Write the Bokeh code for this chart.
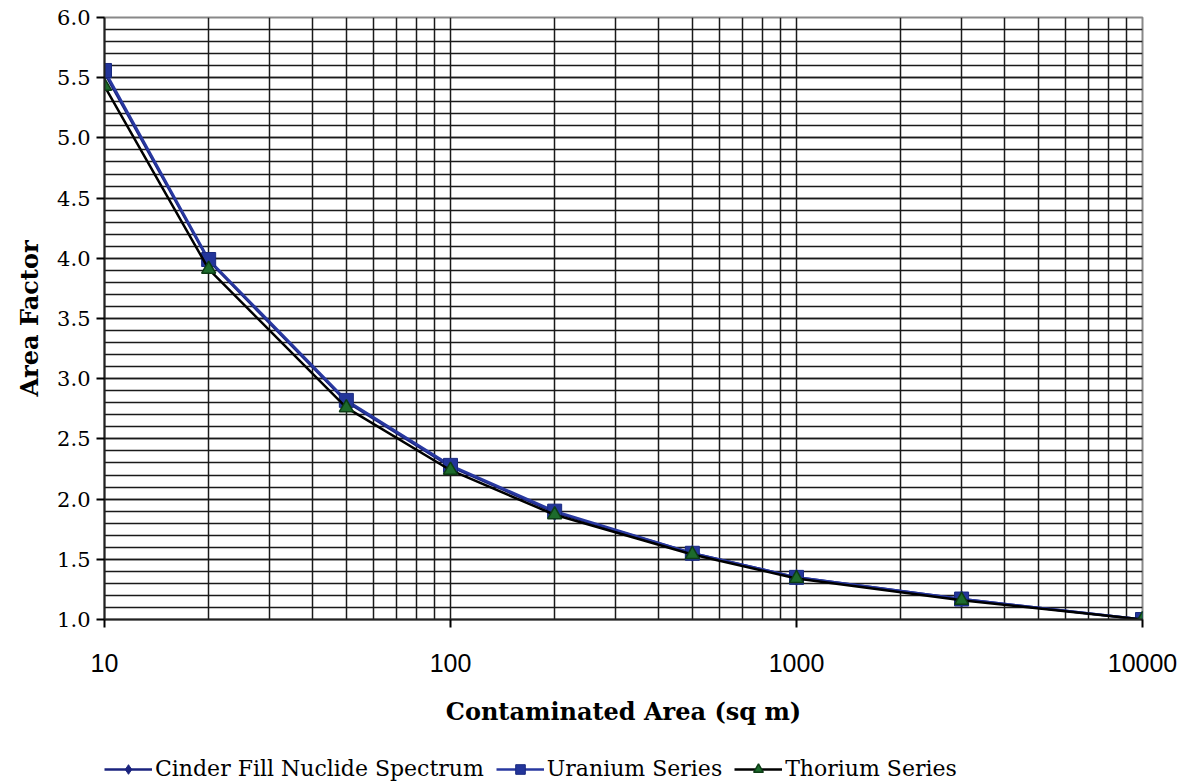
from bokeh.plotting import figure
from bokeh.layouts import column
from bokeh.models import (Range1d, FixedTicker, NumeralTickFormatter, Legend, LegendItem,
                          ColumnDataSource)
from bokeh.embed import file_html
from bokeh.resources import INLINE
import numpy as np

# ---- data ----
area = [10, 20, 50, 100, 200, 500, 1000, 3000, 10000]
cinder = [5.54, 3.98, 2.81, 2.27, 1.89, 1.55, 1.35, 1.17, 1.00]
uranium = [5.56, 3.99, 2.82, 2.28, 1.90, 1.55, 1.35, 1.17, 1.00]
thorium = [5.43, 3.91, 2.76, 2.24, 1.87, 1.54, 1.34, 1.16, 1.00]
x_major = [10, 100, 1000, 10000]
x_minor = [m * d for d in [10, 100, 1000] for m in range(2, 10)]
labels = ["Cinder Fill Nuclide Spectrum", "Uranium Series", "Thorium Series"]

SERIF = "DejaVu Serif"
SANS = "Liberation Sans"

p = figure(width=1180, height=740, x_axis_type="log",
           x_range=Range1d(10, 10000), y_range=Range1d(1.0, 6.0),
           output_backend="svg", toolbar_location=None,
           min_border_left=104, min_border_right=38, min_border_top=17,
           min_border_bottom=121)

p.background_fill_color = "white"
p.border_fill_color = "white"
p.outline_line_color = "#888888"
p.outline_line_width = 2

# x axis
p.xaxis.ticker = FixedTicker(ticks=x_major, minor_ticks=x_minor)
p.xaxis.formatter = NumeralTickFormatter(format="0")
p.xaxis.major_label_text_font = SANS
p.xaxis.major_label_text_font_size = "25px"
p.xaxis.major_label_text_color = "black"
p.xaxis.major_label_standoff = 26
p.xaxis.major_tick_out = 8
p.xaxis.major_tick_in = 0
p.xaxis.minor_tick_out = 0
p.xaxis.minor_tick_in = 0
p.xaxis.axis_line_color = "#222222"
p.xaxis.axis_line_width = 2
p.xaxis.major_tick_line_width = 2
p.xaxis.axis_label = "Contaminated Area (sq m)"
p.xaxis.axis_label_text_font = SERIF
p.xaxis.axis_label_text_font_style = "bold"
p.xaxis.axis_label_text_font_size = "24px"
p.xaxis.axis_label_text_color = "black"
p.xaxis.axis_label_standoff = 22

# y axis
y_major = list(np.round(np.arange(1.0, 6.01, 0.5), 2))
y_minor = list(np.round(np.arange(1.0, 6.01, 0.1), 2))
p.yaxis.ticker = FixedTicker(ticks=y_major, minor_ticks=y_minor)
p.yaxis.formatter = NumeralTickFormatter(format="0.0")
p.yaxis.major_label_text_font = SERIF
p.yaxis.major_label_text_font_size = "21px"
p.yaxis.major_label_text_color = "black"
p.yaxis.major_label_standoff = 6
p.yaxis.major_tick_out = 8
p.yaxis.major_tick_in = 0
p.yaxis.minor_tick_out = 0
p.yaxis.minor_tick_in = 0
p.yaxis.axis_line_color = "#222222"
p.yaxis.axis_line_width = 2
p.yaxis.major_tick_line_width = 2
p.yaxis.axis_label = "Area Factor"
p.yaxis.axis_label_text_font = SERIF
p.yaxis.axis_label_text_font_style = "bold"
p.yaxis.axis_label_text_font_size = "24px"
p.yaxis.axis_label_text_color = "black"
p.yaxis.axis_label_standoff = 10

# grid
for g in (p.xgrid, p.ygrid):
    g.grid_line_color = "#1a1a1a"
    g.grid_line_width = 1.5
    g.minor_grid_line_color = "#1a1a1a"
    g.minor_grid_line_width = 1.5

# series styles
C_STYLE = dict(line_color="#1a237e", line_width=2.5)
U_STYLE = dict(line_color="#2838a0", line_width=2.5)
T_STYLE = dict(line_color="black", line_width=2.5)
C_MK = dict(marker="diamond", size=16, fill_color="#1a237e", line_color="#1a237e")
U_MK = dict(marker="square", size=14, fill_color="#23359a", line_color="#1a2a80")
T_MK = dict(marker="triangle", size=14, fill_color="#1d6b2c", line_color="#0d3d15",
            line_width=1.5)

src = ColumnDataSource(dict(x=area, c=cinder, u=uranium, t=thorium))
p.line("x", "c", source=src, **C_STYLE)
p.scatter("x", "c", source=src, **C_MK)
p.line("x", "u", source=src, **U_STYLE)
p.scatter("x", "u", source=src, **U_MK)
p.line("x", "t", source=src, **T_STYLE)
p.scatter("x", "t", source=src, **T_MK)

# legend strip (separate figure beneath the chart)
lf = figure(width=1180, height=44, x_range=Range1d(0, 1), y_range=Range1d(0, 1),
            output_backend="svg", toolbar_location=None,
            min_border_left=0, min_border_right=0, min_border_top=0, min_border_bottom=0)
lf.axis.visible = False
lf.grid.visible = False
lf.outline_line_color = None
lf.background_fill_color = "white"
lf.border_fill_color = "white"
# legend proxies use the same data (outside the strip's view)
r = []
for col, ls, mk in (("c", C_STYLE, C_MK), ("u", U_STYLE, U_MK), ("t", T_STYLE, T_MK)):
    r.append([lf.line("x", col, source=src, **ls), lf.scatter("x", col, source=src, **mk)])

legend = Legend(items=[LegendItem(label=lab, renderers=rr) for lab, rr in zip(labels, r)],
                orientation="horizontal", location=(0, 3))
legend.label_text_font = SERIF
legend.label_text_font_size = "22px"
legend.label_text_color = "black"
legend.glyph_width = 48
legend.glyph_height = 24
legend.label_height = 24
legend.label_standoff = 3
legend.spacing = 12
legend.border_line_color = None
legend.background_fill_alpha = 0
legend.padding = 0
legend.margin = 0
lf.add_layout(legend, "center")

layout = column(p, lf, spacing=0)
open("out.html", "w").write(file_html(layout, INLINE))
